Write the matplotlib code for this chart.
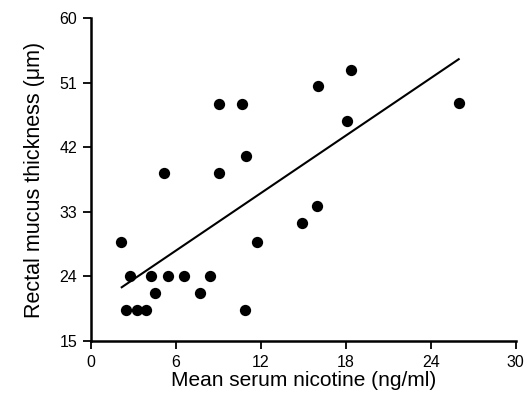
import matplotlib
matplotlib.use("Agg")
import matplotlib.pyplot as plt
import numpy as np

plt.rcParams['font.family'] = ['Liberation Sans', 'DejaVu Sans']

nicotine = [9.05, 10.63, 10.96, 5.15, 9.05, 2.14, 2.75, 4.26, 5.46, 6.58, 8.4,
            4.52, 7.69, 2.47, 3.27, 3.88, 10.87, 11.69, 14.87, 15.97,
            16.0, 18.35, 18.11, 25.97]
mucus = [48.0, 48.0, 40.8, 38.4, 38.4, 28.8, 24.0, 24.0, 24.0, 24.0, 24.0,
         21.6, 21.6, 19.3, 19.3, 19.3, 19.3, 28.8, 31.4, 33.8,
         50.5, 52.85, 45.7, 48.2]
fit_x = [2.17, 25.97]
fit_y = [22.46, 54.3]

xticks = [0, 6, 12, 18, 24, 30]
yticks = [15, 24, 33, 42, 51, 60]

fig = plt.figure(figsize=(5.27, 3.95), dpi=100)
ax = fig.add_axes([0.1727, 0.1375, 0.806, 0.816])
ax.scatter(nicotine, mucus, s=66, color='black', zorder=3, linewidths=0)
ax.plot(fit_x, fit_y, color='black', lw=1.5)

ax.set_xlim(0, 30)
ax.set_ylim(15, 60)
ax.set_xticks(xticks)
ax.set_yticks(yticks)
for s in ['top', 'right']:
    ax.spines[s].set_visible(False)
for s in ['left', 'bottom']:
    ax.spines[s].set_linewidth(1.8)
ax.tick_params(direction='out', length=6, width=1.3, labelsize=11.5, pad=4)
ax.tick_params(axis='x', pad=4)
ax.set_xlabel('Mean serum nicotine (ng/ml)', fontsize=15, labelpad=1)
ax.set_ylabel('Rectal mucus thickness (μm)', fontsize=15.5, labelpad=10)

fig.savefig('out.png', dpi=100)
